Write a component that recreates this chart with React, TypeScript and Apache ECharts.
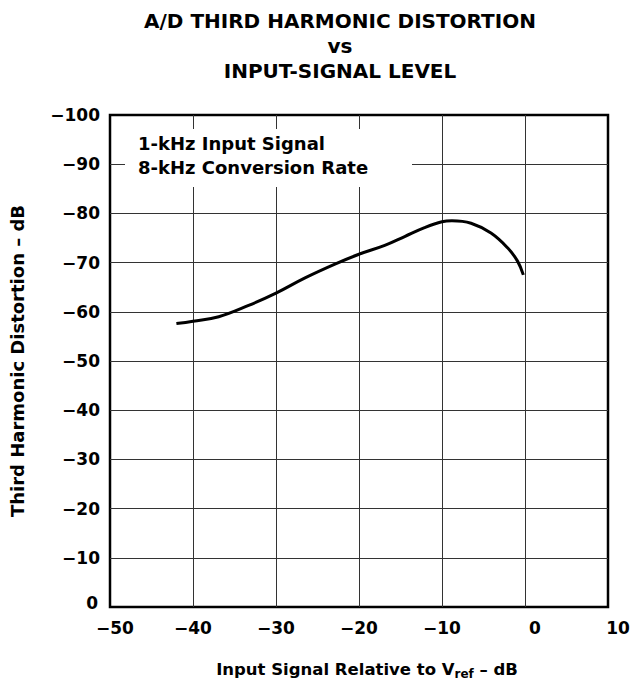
import React, { useEffect, useRef } from "react";
import * as echarts from "echarts";

const titleLines = ["A/D THIRD HARMONIC DISTORTION", "vs", "INPUT-SIGNAL LEVEL"];
const annotationLines = ["1-kHz Input Signal", "8-kHz Conversion Rate"];
const xTicks = [-50, -40, -30, -20, -10, 0, 10];
const yTicks = [0, 10, 20, 30, 40, 50, 60, 70, 80, 90, 100];
// Input signal (dB) vs third harmonic distortion magnitude (plotted as -dB)
const inputLevel = [-42, -40, -36.9, -33.3, -30, -26.5, -22.9, -20, -16.9, -14.5, -12.1, -10, -8.8, -6.5, -4.1, -2.1, -0.9, -0.2];
const distortion = [57.6, 58.1, 59.0, 61.3, 63.8, 66.9, 69.7, 71.7, 73.5, 75.3, 77.1, 78.3, 78.5, 78.0, 76.0, 73.0, 70.3, 67.5];

const FONT = "'DejaVu Sans', 'Liberation Sans', Arial, sans-serif";

export default function App() {
  const ref = useRef<HTMLDivElement>(null);
  useEffect(() => {
    if (!ref.current) return;
    const chart = echarts.init(ref.current, undefined, { renderer: "svg" });
    chart.setOption({
      animation: false,
      backgroundColor: "#ffffff",
      title: {
        text: titleLines.join("\n"),
        left: 335,
        textAlign: "center",
        top: 3,
        textStyle: { fontFamily: FONT, fontWeight: "bold", fontSize: 20, lineHeight: 25, color: "#000" },
      },
      grid: {
        left: 107,
        right: 26,
        top: 115,
        bottom: 70,
        show: true,
        borderColor: "#000",
        borderWidth: 2.5,
        backgroundColor: "transparent",
      },
      xAxis: {
        type: "value",
        min: -50,
        max: 10,
        interval: 10,
        axisLine: { show: false },
        axisTick: { show: false },
        splitLine: { show: true, showMinLine: false, showMaxLine: false, lineStyle: { color: "#333", width: 1 } },
        axisLabel: {
          margin: 12,
          fontFamily: FONT,
          fontWeight: "bold",
          fontSize: 17,
          color: "#000",
          formatter: (v: number) => {
            if (!xTicks.includes(v)) return "";
            if (v === -50) return "{f|\u221250}";
            return v < 0 ? "\u2212" + Math.abs(v) : "{n|" + v + "}";
          },
          rich: {
            n: { fontFamily: FONT, fontWeight: "bold", fontSize: 17, color: "#000", padding: [0, 0, 0, 20] },
            f: { fontFamily: FONT, fontWeight: "bold", fontSize: 17, color: "#000", padding: [0, 0, 0, 10] },
          },
        },
        name: "{a|Input Signal Relative to V}{s|ref}{b| \u2013 dB}",
        nameLocation: "middle",
        nameGap: 52,
        nameTextStyle: {
          rich: {
            a: { fontFamily: FONT, fontWeight: "bold", fontSize: 16.5, color: "#000", padding: [0, 0, 0, 16] },
            b: { fontFamily: FONT, fontWeight: "bold", fontSize: 16.5, color: "#000" },
            s: { fontFamily: FONT, fontWeight: "bold", fontSize: 12, color: "#000", padding: [9, 0, 0, 0] },
          },
        },
      },
      yAxis: {
        type: "value",
        min: 0,
        max: 100,
        interval: 10,
        axisLine: { show: false },
        axisTick: { show: false },
        splitLine: { show: true, showMinLine: false, showMaxLine: false, lineStyle: { color: "#333", width: 1 } },
        axisLabel: {
          margin: 10,
          fontFamily: FONT,
          fontWeight: "bold",
          fontSize: 17,
          color: "#000",
          formatter: (v: number) => {
            if (!yTicks.includes(v)) return "";
            return v === 0 ? "{z|0}" : "\u2212" + v;
          },
          rich: {
            z: { fontFamily: FONT, fontWeight: "bold", fontSize: 17, color: "#000", padding: [0, 2, 8, 0] },
          },
        },
        name: "Third Harmonic Distortion \u2013 dB",
        nameLocation: "middle",
        nameGap: 84,
        nameTextStyle: { fontFamily: FONT, fontWeight: "bold", fontSize: 18, color: "#000" },
      },
      graphic: [
        {
          type: "rect",
          shape: { x: 125, y: 129, width: 287, height: 58 },
          style: { fill: "#fff" },
          z: 10,
        },
        {
          type: "text",
          x: 138,
          y: 131,
          style: {
            text: annotationLines.join("\n"),
            fontFamily: FONT,
            fontWeight: "bold",
            fontSize: 18,
            lineHeight: 24.5,
            fill: "#000",
          },
          z: 11,
        },
      ],
      series: [
        {
          type: "line",
          data: inputLevel.map((x, i) => [x, distortion[i]]),
          smooth: 0.4,
          showSymbol: false,
          lineStyle: { color: "#000", width: 3 },
          z: 5,
        },
      ],
    });
    return () => chart.dispose();
  }, []);
  return <div ref={ref} style={{ width: 634, height: 685, position: "absolute", left: 0, top: 0 }} />;
}
